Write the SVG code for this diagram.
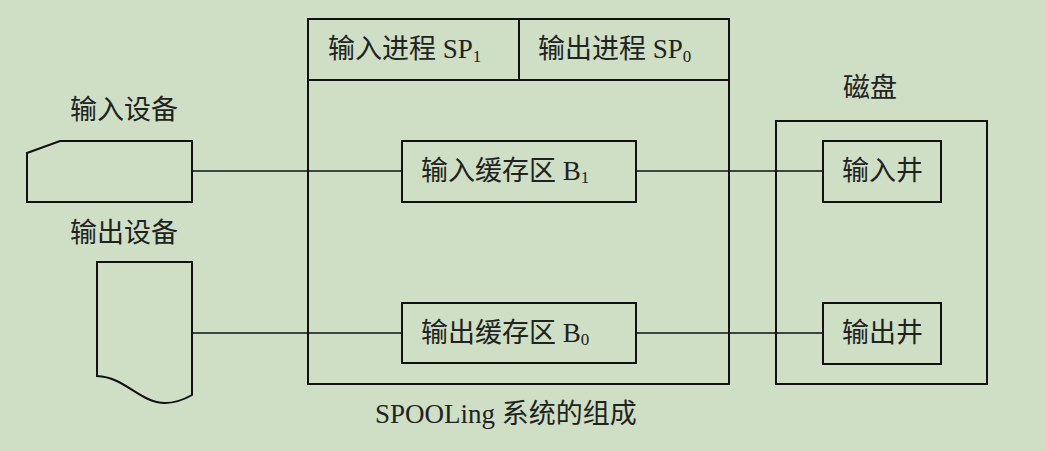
<svg xmlns="http://www.w3.org/2000/svg" width="1046" height="451" viewBox="0 0 1046 451">
<style>
.bg{fill:#CEDFC5}
.sh{fill:none;stroke:#111;stroke-width:2}
.ln{fill:none;stroke:#111;stroke-width:1.6}
text{font-family:"Liberation Serif","Noto Sans CJK SC",serif;font-size:27px;fill:#222}
.sub{font-size:17px}
</style>
<rect class="bg" x="0" y="0" width="1046" height="451"/>
<g id="connectors">
<line class="ln" x1="192" y1="171" x2="402" y2="171"/>
<line class="ln" x1="192" y1="333" x2="402" y2="333"/>
<line class="ln" x1="636" y1="171" x2="823" y2="171"/>
<line class="ln" x1="636" y1="333" x2="823" y2="333"/>
</g>
<g id="input-device">
<text x="70" y="119">输入设备</text>
<polygon class="sh" points="27,153 60,141 192,141 192,202 27,202"/>
</g>
<g id="output-device">
<text x="70" y="242">输出设备</text>
<path class="sh" d="M97,376 V262 H192 V395 C185,399 176,403 165,403 C140,403 125,377 97,376 Z"/>
</g>
<g id="spooling">
<rect class="sh" x="308" y="19" width="421" height="365"/>
<line class="sh" x1="308" y1="80" x2="729" y2="80"/>
<line class="sh" x1="519" y1="19" x2="519" y2="80"/>
<text x="328" y="58">输入进程 SP<tspan class="sub" dy="4">1</tspan></text>
<text x="538" y="58">输出进程 SP<tspan class="sub" dy="4">0</tspan></text>
<text x="375" y="423">SPOOLing 系统的组成</text>
</g>
<g id="input-buffer">
<rect class="sh" x="402" y="141" width="234" height="61"/>
<text x="421" y="180">输入缓存区 B<tspan class="sub" dy="3">1</tspan></text>
</g>
<g id="output-buffer">
<rect class="sh" x="402" y="303" width="234" height="60"/>
<text x="421" y="342">输出缓存区 B<tspan class="sub" dy="3">0</tspan></text>
</g>
<g id="disk">
<text x="843" y="97">磁盘</text>
<rect class="sh" x="776" y="121" width="211" height="263"/>
</g>
<g id="input-well">
<rect class="sh" x="823" y="141" width="118" height="61"/>
<text x="842" y="180">输入井</text>
</g>
<g id="output-well">
<rect class="sh" x="823" y="303" width="118" height="61"/>
<text x="842" y="342">输出井</text>
</g>
</svg>
